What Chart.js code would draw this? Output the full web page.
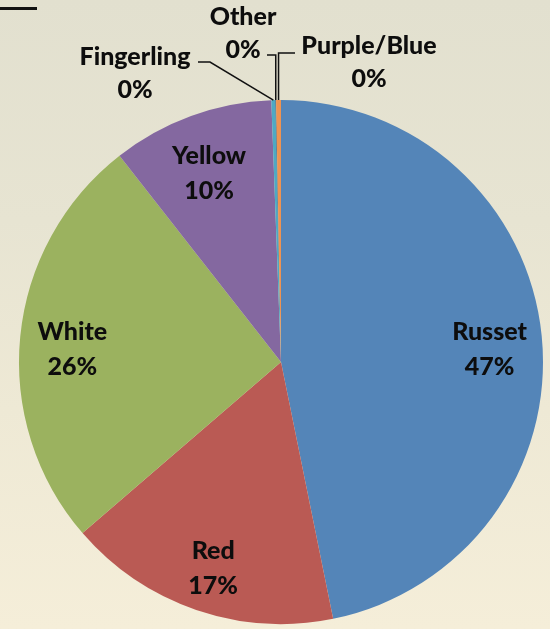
<!DOCTYPE html>
<html>
<head>
<meta charset="utf-8">
<script src="https://cdn.jsdelivr.net/npm/chart.js@4.4.1/dist/chart.umd.min.js"></script>
<style>
    html, body {
        margin: 0;
        padding: 0;
        width: 550px;
        height: 629px;
        overflow: hidden;
    }
    body {
        background: linear-gradient(180deg, #e2e0cf 0%, #e7e4d2 35%, #eee9d5 65%, #f5eed9 100%);
        position: relative;
    }
    #topRule {
        position: absolute;
        left: 0;
        top: 7px;
        width: 37px;
        height: 3px;
        background: #111;
    }
    #potatoChart {
        position: absolute;
        left: 0;
        top: 0;
    }
</style>
</head>
<body>
<div id="topRule"></div>
<canvas id="potatoChart" width="550" height="629"></canvas>
<script>
const categories = ["Russet", "Red", "White", "Yellow", "Fingerling", "Other", "Purple/Blue"];
const shares = [46.9, 16.9, 25.8, 10.0, 0.25, 0.04, 0.3];
const shareLabels = ["47%", "17%", "26%", "10%", "0%", "0%", "0%"];
const sliceColors = ["#5485b8", "#ba5a54", "#9bb25f", "#8468a0", "#4ea9c3", "#2c4d75", "#ef9350"];

document.addEventListener("DOMContentLoaded", function () {
    const labelFont = "900 25px Lato, 'Open Sans', sans-serif";
    const lineGap = 35;

    // labels for the thin slices sit outside with elbow leader lines
    const outsideLabels = {
        "Fingerling": { text: [135, 57], elbow: [[198, 62], [210, 62]] },
        "Other": { text: [243, 17], elbow: [[267, 55], null] },
        "Purple/Blue": { text: [369, 46], elbow: [[295, 53], null] },
    };

    const sliceLabels = {
        id: "sliceLabels",
        afterDatasetsDraw(chart) {
            const ctx = chart.ctx;
            const meta = chart.getDatasetMeta(0);
            ctx.save();
            ctx.font = labelFont;
            ctx.fillStyle = "#0d0d0d";
            ctx.textAlign = "center";
            ctx.textBaseline = "middle";
            meta.data.forEach((arc, i) => {
                const name = chart.data.labels[i];
                const mid = (arc.startAngle + arc.endAngle) / 2;
                const out = outsideLabels[name];
                if (!out) {
                    const r = arc.outerRadius * 0.8;
                    const x = arc.x + Math.cos(mid) * r;
                    const y = arc.y + Math.sin(mid) * r + 8;
                    ctx.fillText(name, x, y - lineGap / 2);
                    ctx.fillText(shareLabels[i], x, y + lineGap / 2);
                    return;
                }
                const ax = arc.x + Math.cos(mid) * arc.outerRadius;
                const ay = arc.y + Math.sin(mid) * arc.outerRadius;
                const pts = out.elbow.map((p) => p || [ax, out.elbow[0][1]]);
                ctx.beginPath();
                ctx.moveTo(pts[0][0], pts[0][1]);
                for (let k = 1; k < pts.length; k++) ctx.lineTo(pts[k][0], pts[k][1]);
                ctx.lineTo(ax, ay);
                ctx.lineWidth = 1.5;
                ctx.strokeStyle = "#111";
                ctx.stroke();
                ctx.fillText(name, out.text[0], out.text[1]);
                ctx.fillText(shareLabels[i], out.text[0], out.text[1] + lineGap - 2);
            });
            ctx.restore();
        },
    };

    const ctx = document.getElementById("potatoChart").getContext("2d");
    new Chart(ctx, {
        type: "pie",
        data: {
            labels: categories,
            datasets: [
                {
                    data: shares,
                    backgroundColor: sliceColors,
                    borderWidth: 0,
                },
            ],
        },
        options: {
            responsive: false,
            animation: false,
            layout: {
                padding: { left: 19, right: 7, top: 100, bottom: 5 },
            },
            plugins: {
                legend: { display: false },
                tooltip: { enabled: false },
            },
        },
        plugins: [sliceLabels],
    });
});
</script>
</body>
</html>
